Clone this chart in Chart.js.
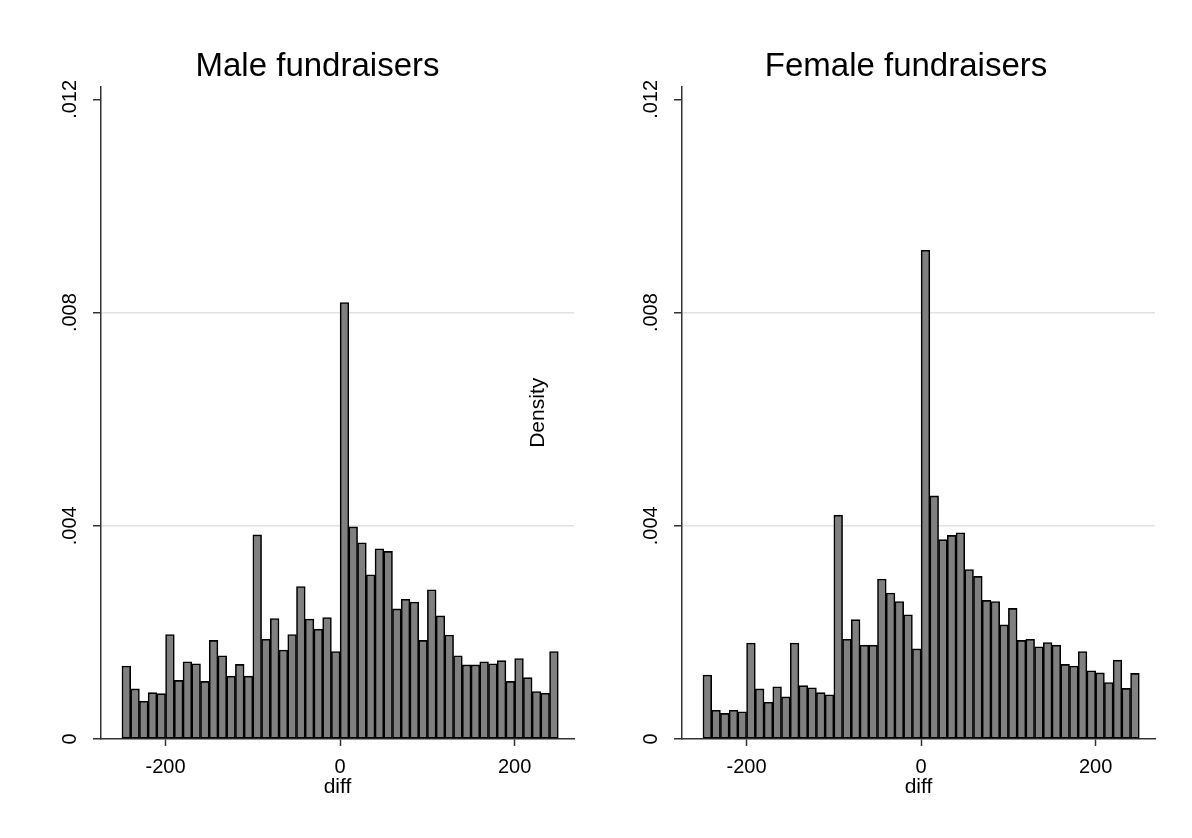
<!DOCTYPE html>
<html>
<head>
<meta charset="utf-8">
<script src="https://cdn.jsdelivr.net/npm/chart.js"></script>
<style>
  body { margin: 0; background: #fff; }
  #wrap { position: relative; width: 1192px; height: 838px; overflow: hidden; background: #fff; }
  canvas { position: absolute; top: 0; }
  #male { left: 0; }
  #female { left: 500px; }
</style>
</head>
<body>
<div id="wrap">
  <canvas id="male" width="600" height="838"></canvas>
  <canvas id="female" width="692" height="838"></canvas>
</div>
<script>
// bin centres of diff (width 10, from -250 to 250)
const binCenters = [
  -245, -235, -225, -215, -205, -195, -185, -175, -165, -155,
  -145, -135, -125, -115, -105, -95, -85, -75, -65, -55,
  -45, -35, -25, -15, -5, 5, 15, 25, 35, 45,
  55, 65, 75, 85, 95, 105, 115, 125, 135, 145,
  155, 165, 175, 185, 195, 205, 215, 225, 235, 245
];

// densities
const maleDensity = [
  0.00137, 0.00094, 0.00071, 0.00087, 0.00085, 0.00196, 0.00110, 0.00145, 0.00141, 0.00108,
  0.00185, 0.00156, 0.00118, 0.00140, 0.00118, 0.00383, 0.00187, 0.00226, 0.00167, 0.00196,
  0.00286, 0.00225, 0.00206, 0.00228, 0.00164, 0.00819, 0.00398, 0.00368, 0.00308, 0.00357,
  0.00352, 0.00244, 0.00262, 0.00257, 0.00185, 0.00280, 0.00231, 0.00195, 0.00156, 0.00139,
  0.00139, 0.00145, 0.00141, 0.00147, 0.00108, 0.00151, 0.00115, 0.00089, 0.00086, 0.00164
];

const femaleDensity = [
  0.00120, 0.00054, 0.00048, 0.00054, 0.00051, 0.00180, 0.00094, 0.00069, 0.00098, 0.00079,
  0.00180, 0.00100, 0.00096, 0.00087, 0.00083, 0.00420, 0.00187, 0.00224, 0.00176, 0.00176,
  0.00300, 0.00274, 0.00258, 0.00233, 0.00169, 0.00917, 0.00456, 0.00374, 0.00382, 0.00387,
  0.00318, 0.00305, 0.00260, 0.00258, 0.00214, 0.00245, 0.00185, 0.00187, 0.00173, 0.00181,
  0.00176, 0.00140, 0.00137, 0.00164, 0.00128, 0.00124, 0.00106, 0.00148, 0.00095, 0.00123
];

const xTicks = [-200, 0, 200];
const yTicks = [0, 0.004, 0.008, 0.012];
const yTickLabels = ['0', '.004', '.008', '.012'];

const FONT = "'Liberation Sans', Arial, sans-serif";
const AXIS_COLOR = '#333';

function makeHistogram(canvasId, title, values, layout) {
  const ctx = document.getElementById(canvasId).getContext('2d');
  return new Chart(ctx, {
    type: 'bar',
    data: {
      datasets: [{
        data: binCenters.map((x, i) => ({ x: x, y: values[i] })),
        backgroundColor: '#808080',
        borderColor: '#000',
        borderWidth: 1.6,
        borderSkipped: false,
        barPercentage: 1,
        categoryPercentage: 1
      }]
    },
    options: {
      responsive: false,
      animation: false,
      events: [],
      layout: { padding: layout.padding },
      plugins: {
        legend: { display: false },
        tooltip: { enabled: false },
        title: {
          display: true,
          text: title,
          color: '#000',
          font: { family: FONT, size: 33, weight: 'normal', lineHeight: 1.2 },
          padding: { top: 47, bottom: 0 }
        }
      },
      scales: {
        x: {
          type: 'linear',
          min: -274,
          max: 268,
          offset: false,
          afterFit: (scale) => { scale.height = 99; },
          afterBuildTicks: (scale) => { scale.ticks = xTicks.map(v => ({ value: v })); },
          border: { color: AXIS_COLOR, width: 1.5 },
          grid: { drawOnChartArea: false, tickLength: 7, tickColor: AXIS_COLOR, tickWidth: 1.5, offset: false },
          ticks: {
            color: '#000',
            padding: 9,
            maxRotation: 0,
            font: { family: FONT, size: 20 },
            callback: (v) => String(v)
          },
          title: {
            display: true,
            text: 'diff',
            color: '#000',
            font: { family: FONT, size: 21, lineHeight: 1.2 },
            padding: { top: 0, bottom: 38 }
          }
        },
        y: {
          min: 0,
          max: 0.01224,
          afterFit: (scale) => { scale.width = layout.yWidth; },
          afterBuildTicks: (scale) => { scale.ticks = yTicks.map(v => ({ value: v })); },
          border: { color: AXIS_COLOR, width: 1.5 },
          grid: {
            color: (c) => (c.tick && c.tick.value > 0 && c.tick.value < 0.012) ? '#e2e2e2' : 'rgba(0,0,0,0)',
            lineWidth: 1.5,
            tickLength: 8,
            tickColor: AXIS_COLOR,
            tickWidth: 1.5
          },
          ticks: {
            color: '#000',
            padding: 3,
            minRotation: 90,
            maxRotation: 90,
            crossAlign: 'center',
            font: { family: FONT, size: 20 },
            callback: (v) => yTickLabels[yTicks.indexOf(v)]
          },
          title: layout.yTitle
        },
        // empty strip on the right so the panel title is centred like the original
        gap: {
          position: 'right',
          afterFit: (scale) => { scale.width = layout.rightGap; },
          grid: { display: false },
          border: { display: false },
          ticks: { display: false }
        }
      }
    }
  });
}

makeHistogram('male', 'Male fundraisers', maleDensity, {
  padding: { left: 61, right: 26, top: 0, bottom: 0 },
  yWidth: 40,
  rightGap: 0,
  yTitle: { display: false }
});

// the Density title of the right panel sits left of its tick labels
makeHistogram('female', 'Female fundraisers', femaleDensity, {
  padding: { left: 140, right: 20, top: 0, bottom: 0 },
  yWidth: 42,
  rightGap: 17,
  yTitle: {
    display: true,
    text: 'Density',
    color: '#000',
    font: { family: FONT, size: 21, lineHeight: 1.2 },
    padding: { top: -114.6, bottom: 0 }
  }
});
</script>
</body>
</html>
